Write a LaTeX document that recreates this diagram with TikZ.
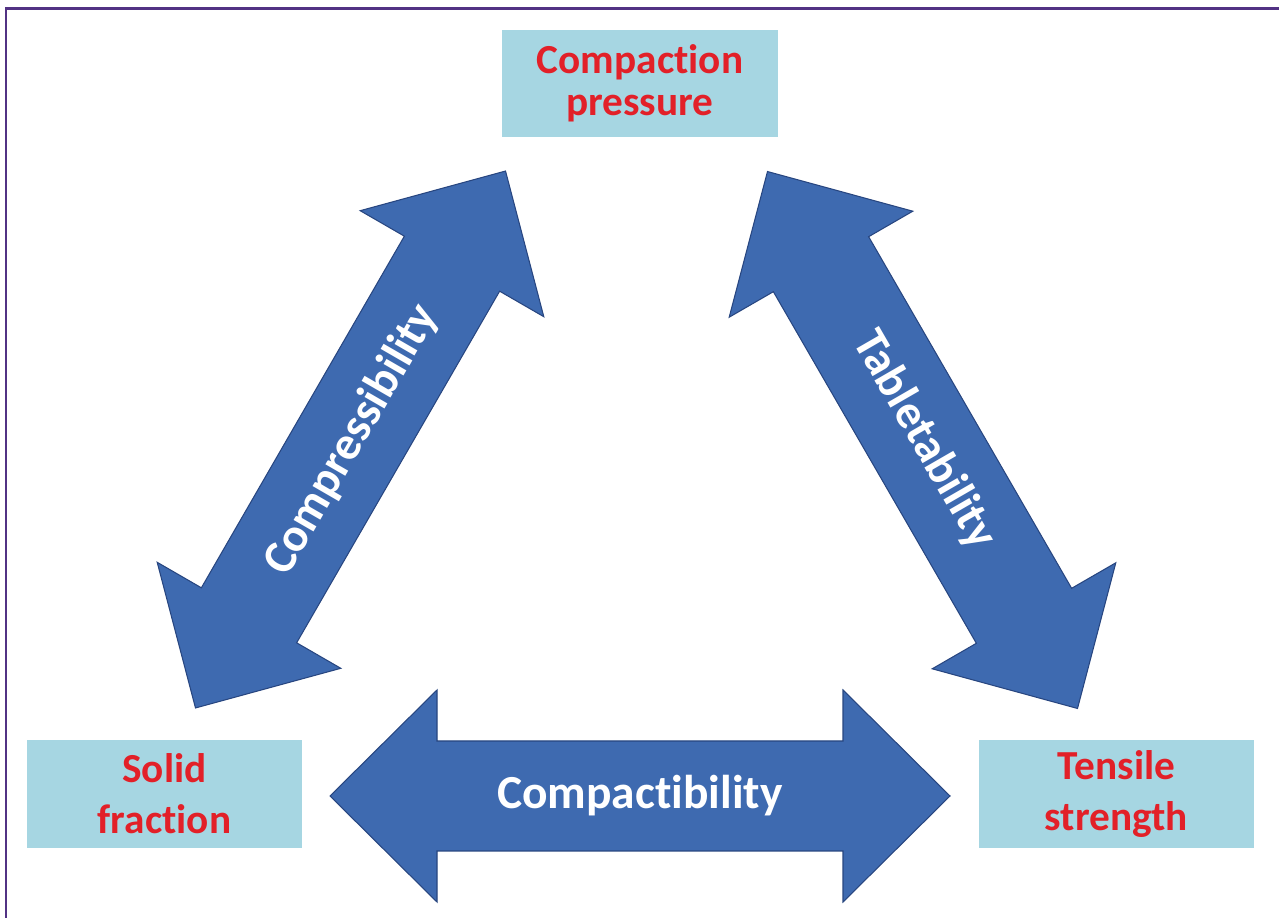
\documentclass[tikz,border=0pt]{standalone}
\usepackage{fontspec}
\setmainfont{Carlito}[Ligatures=NoCommon]

\definecolor{framepurple}{RGB}{82,50,132}
\definecolor{boxblue}{RGB}{166,214,226}
\definecolor{labelred}{RGB}{226,32,40}
\definecolor{arrowblue}{RGB}{62,106,176}
\definecolor{arrowedge}{RGB}{40,70,128}

\tikzset{
  factor/.style={fill=boxblue, minimum width=5.52cm, minimum height=2.15cm,
    inner sep=0pt, align=center, text=labelred,
    font=\bfseries\fontsize{23.5}{29}\selectfont},
  relation/.style={inner sep=0pt, text=white,
    font=\bfseries\fontsize{27}{30}\selectfont},
  fatarrow/.pic={
    \draw[fill=arrowblue, draw=arrowedge, line width=0.6pt, line join=miter]
      (-310,0) -- (-203,106) -- (-203,55) -- (203,55) -- (203,106)
      -- (310,0) -- (203,-106) -- (203,-55) -- (-203,-55) -- (-203,-106) -- cycle;
  }
}

\begin{document}
\begin{tikzpicture}[x=0.02cm,y=0.02cm]
\useasboundingbox (0,0) rectangle (1279,-918);
\draw[framepurple, line width=1.7pt] (6,-918) -- (6,-9) -- (1279,-9);

% the three quantities
\node[factor, font=\bfseries\fontsize{23.5}{24}\selectfont] (press) at (640,-83.5) {Compaction\\pressure};
\node[factor] (solid) at (164.5,-794) {Solid\\fraction};
\node[factor] (tensile) at (1116.5,-794) {Tensile\\strength};

% the three relations
\pic[rotate=60] at (350.5,-439.5) {fatarrow};
\pic[rotate=-60] at (922.5,-440) {fatarrow};
\pic at (640,-796) {fatarrow};
\node[relation, rotate=60] (compress) at (352,-440) {Compressibility};
\node[relation, rotate=-60] (tablet) at (924,-440) {Tabletability};
\node[relation] (compact) at (640,-796) {Compactibility};
\end{tikzpicture}
\end{document}
